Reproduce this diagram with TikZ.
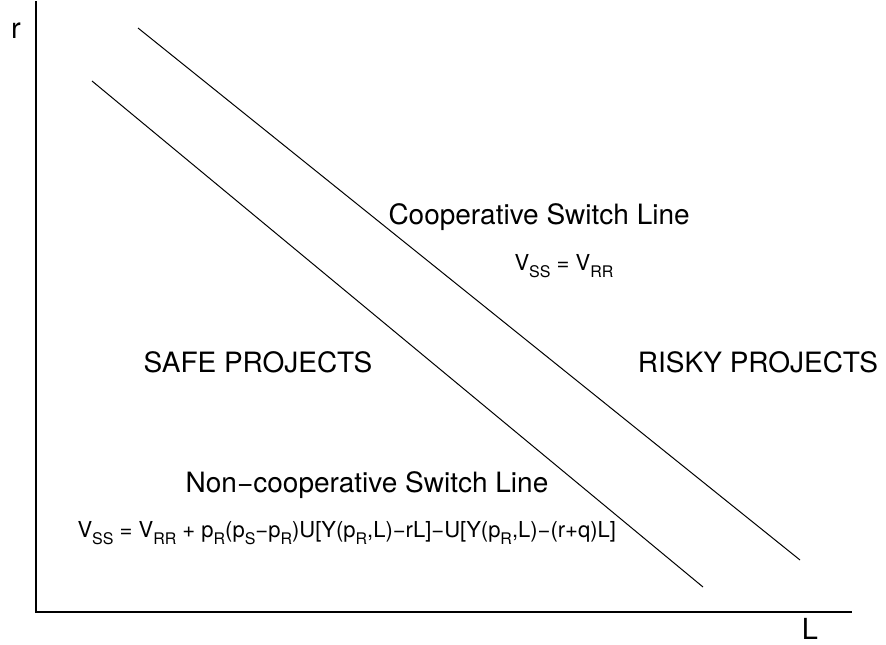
\documentclass[tikz,border=0pt]{standalone}
\usepackage{fontspec}
\setmainfont{TeX Gyre Heros}
\newcommand{\lo}[1]{\raisebox{-0.32em}{\fontsize{16}{16}\selectfont #1}}

\begin{document}
\begin{tikzpicture}[x=1pt,y=-1pt,line width=1pt,
  axlbl/.style={inner sep=0pt,font=\fontsize{29}{33}\selectfont},
  region/.style={inner sep=0pt,font=\fontsize{28}{32}\selectfont},
  eqn/.style={inner sep=0pt,font=\fontsize{22}{26}\selectfont}]
\useasboundingbox (0,0) rectangle (886,645);
\def\xo{36};
\def\yo{612};

\coordinate (top) at (\xo,1);
\coordinate (O) at (\xo,\yo);
\coordinate (right) at (852,\yo);
\draw[line width=1.3pt] (top) -- (O) -- (right);

\node[axlbl,anchor=base] (r) at (16,38) {r};
\node[axlbl,anchor=base] (L) at (810,639) {L};

\coordinate (C1) at (138,28);
\coordinate (C2) at (800,560);
\draw (C1) -- (C2);
\coordinate (N1) at (92,81);
\coordinate (N2) at (703,587);
\draw (N1) -- (N2);

\node[region,anchor=base west] (coop) at (388,224) {Cooperative Switch Line};
\node[eqn,anchor=base west] (coopeq) at (514,270) {V\lo{SS} = V\lo{RR}};

\node[region,anchor=base] (safe) at (258,372) {SAFE PROJECTS};
\node[region,anchor=base] (risky) at (758,372) {RISKY PROJECTS};

\node[region,anchor=base] (noncoop) at (367,492) {Non−cooperative Switch Line};
\node[eqn,anchor=base west] (noncoopeq) at (77,537) {V\lo{SS} = V\lo{RR} + p\lo{R}(p\lo{S}−p\lo{R})U[Y(p\lo{R},L)−rL]−U[Y(p\lo{R},L)−(r+q)L]};
\end{tikzpicture}
\end{document}
